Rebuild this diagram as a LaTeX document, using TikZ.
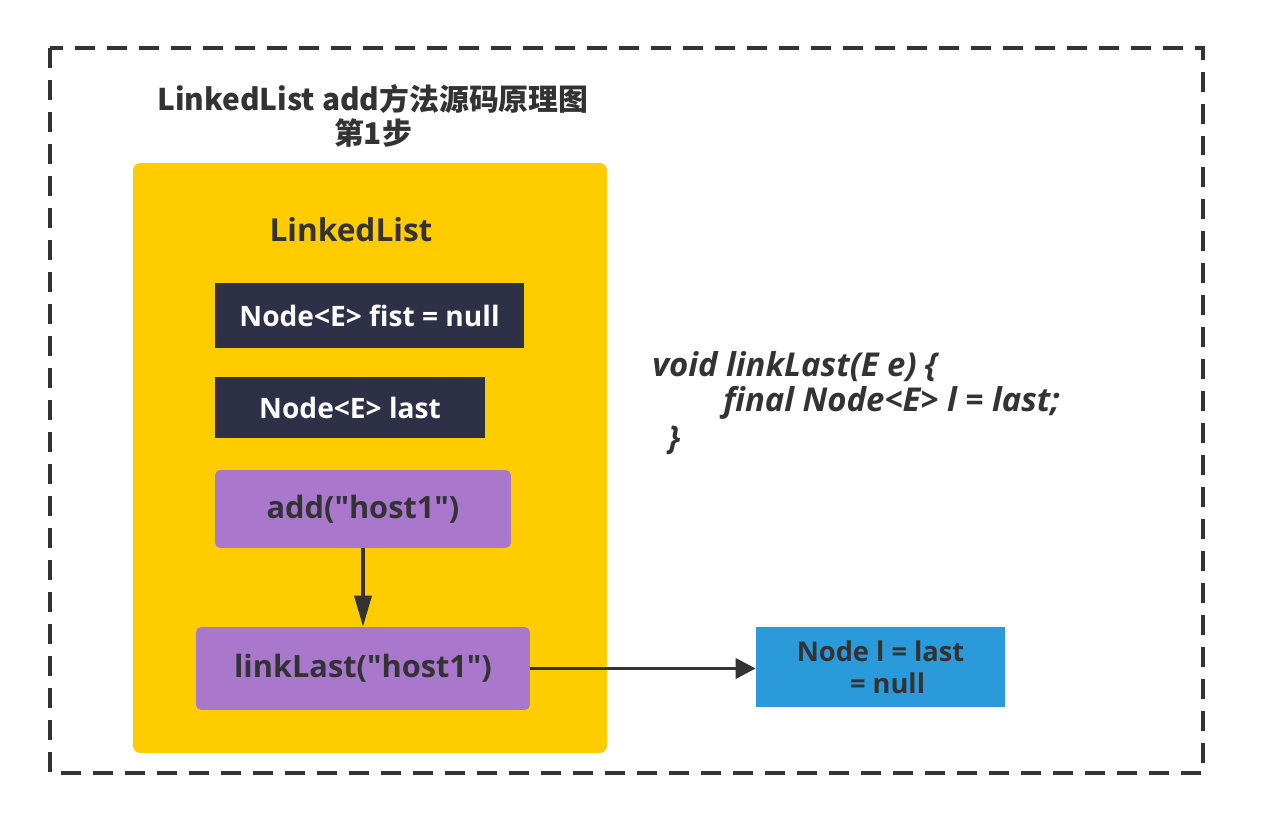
\documentclass[tikz,border=0pt]{standalone}
\usepackage{fontspec}
\setmainfont{Open Sans}[Ligatures=TeXOff]
\newfontfamily\cjk{Noto Sans CJK SC}
\usepackage{xcolor}
\definecolor{txtdark}{HTML}{333333}
\definecolor{listyellow}{HTML}{FFCC00}
\definecolor{fieldnavy}{HTML}{2D3047}
\definecolor{callpurple}{HTML}{A978CC}
\definecolor{nodeblue}{HTML}{2A9ADB}
\usetikzlibrary{arrows.meta, positioning}

\tikzset{
  field/.style={fill=fieldnavy, text=white, font=\bfseries\fontsize{16}{19}\selectfont, inner sep=0pt},
  call/.style={fill=callpurple, text=txtdark, rounded corners=3pt, font=\bfseries\fontsize{17.5}{21}\selectfont, inner sep=0pt},
  code/.style={anchor=west, text=txtdark, font=\bfseries\itshape\fontsize{18.7}{22}\selectfont, inner sep=0pt},
  flow/.style={draw=txtdark, line width=2pt}
}

\begin{document}
\begin{tikzpicture}[x=0.02cm, y=-0.02cm]
  \useasboundingbox (0,0) rectangle (1277,824);

  % Outer frame
  \draw[txtdark, line width=2pt, dash pattern=on 0.4cm off 0.24cm] (50,48) rectangle (1203,773);

  % Title
  \node[font=\cjk\bfseries\fontsize{17}{19}\selectfont, text=txtdark, align=center] (title) at (373,116) {LinkedList add方法源码原理图\\第1步};

  % LinkedList container
  \node[fill=listyellow, rounded corners=4pt, minimum width=9.48cm, minimum height=11.8cm, inner sep=0pt] (list) at (370,458) {};
  \node[font=\bfseries\fontsize{18}{21}\selectfont, text=txtdark] (listname) at (351,230) {LinkedList};

  % Fields
  \node[field, minimum width=6.18cm, minimum height=1.30cm] (first) at (369.5,315.5) {Node<E> fist = null};
  \node[field, minimum width=5.40cm, minimum height=1.22cm] (last) at (350,407.5) {Node<E> last};

  % Method calls
  \node[call, minimum width=5.92cm, minimum height=1.56cm] (add) at (363,509) {add("host1")};
  \node[call, minimum width=6.68cm, minimum height=1.66cm] (linklast) at (363,668.5) {linkLast("host1")};

  % New node
  \node[fill=nodeblue, text=txtdark, align=center, font=\bfseries\fontsize{15.5}{18}\selectfont, minimum width=4.98cm, minimum height=1.60cm, inner sep=0pt] (newnode) at (880.5,667) {Node l = last\\\ \ = null};

  % Code
  \node[code] (code1) at (652,367) {void linkLast(E e) \{};
  \node[code] (code2) at (723,403) {final Node<E> l = last;};
  \node[code] (code3) at (668,440) {\}};

  % Arrows
  \draw[flow, -{Triangle[length=0.62cm, width=0.34cm]}] (add) -- (linklast);
  \draw[flow, -{Triangle[length=0.4cm, width=0.4cm]}] (linklast.east) -- (newnode.west |- linklast.east);
\end{tikzpicture}
\end{document}
